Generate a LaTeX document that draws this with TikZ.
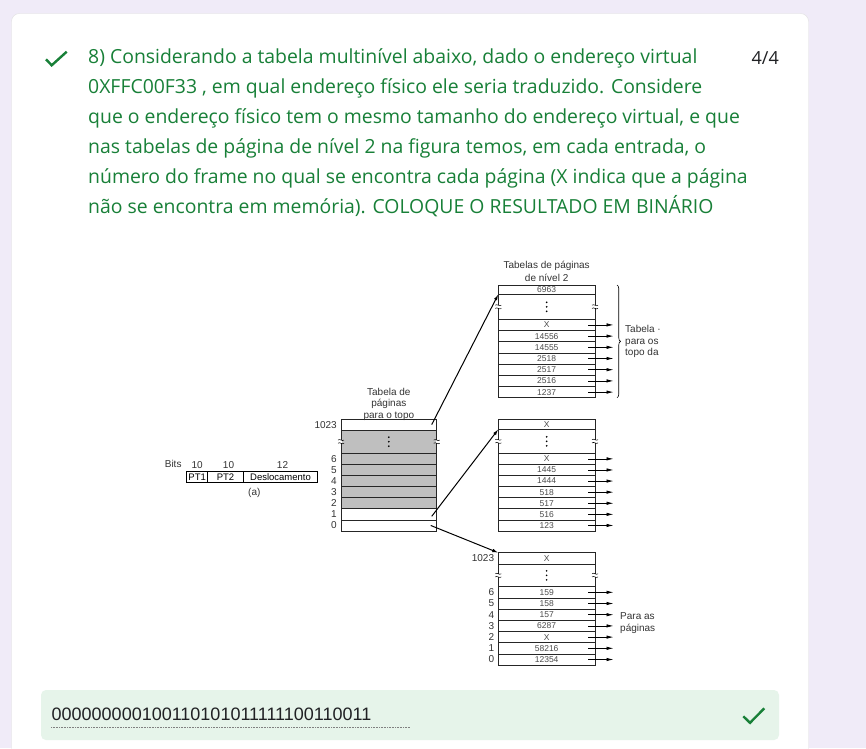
\documentclass[tikz,border=0pt]{standalone}
\usepackage{fontspec}
\setmainfont{Liberation Sans}
\newfontfamily\qfont{Open Sans}
\usetikzlibrary{positioning,arrows.meta,decorations.pathreplacing}
\definecolor{formbg}{HTML}{F0EBF8}
\definecolor{okgreen}{HTML}{188038}
\definecolor{okfill}{HTML}{E6F4EA}
\definecolor{ink}{HTML}{202124}

\begin{document}
\begin{tikzpicture}[x=1pt,y=-1pt,
    qline/.style={anchor=base west,inner sep=0,text=okgreen,font=\qfont\fontsize{19.4}{19.4}\selectfont},
    row/.style={draw=black!85,line width=.7pt,minimum width=96.7pt,minimum height=11.2pt,inner sep=0,outer sep=0,
        font=\fontsize{8.5}{8.5}\selectfont,text=black!70},
    gaprow/.style={row,minimum height=24pt},
    grey/.style={fill=black!25},
    lbl/.style={font=\fontsize{10}{11.5}\selectfont,text=black!80,inner sep=0,align=center},
    num/.style={lbl,label distance=4pt},
    ptr/.style={-{Latex[length=6pt,width=3.5pt]},line width=1pt},
    outarrow/.style={-{Latex[length=7pt,width=3.4pt]},line width=.7pt},
    field/.style={draw,line width=.7pt,minimum height=11pt,inner sep=0,outer sep=0,font=\fontsize{9.5}{9.5}\selectfont},
    brk/.pic={\fill[white] (-1,-1.6) rectangle (1,1.6);
        \draw[line width=.5pt] (-3,-1.6) .. controls (-1,-3.4) and (1,.2) .. (3,-1.6);
        \draw[line width=.5pt] (-3,1.6) .. controls (-1,-.2) and (1,3.4) .. (3,1.6);},
    dots/.pic={\foreach \d in {-4.5,0,4.5} \fill (0,\d) circle (.95);}]
    \useasboundingbox (0,0) rectangle (866,748);
    \fill[formbg] (0,0) rectangle (866,748);
    \fill[white,draw=black!12,rounded corners=8] (11.5,13.5) rectangle (808.5,770);

    \draw[okgreen,line width=2.4pt] (46,59.3) -- (51.7,65.3) -- (66.7,51.7);
    \node[qline] (q1) at (88,63.5) {8) Considerando a tabela multinível abaixo, dado o endereço virtual};
    \node[qline] (q2) at (88,93.5) {0XFFC00F33 , em qual endereço físico ele seria traduzido. Considere};
    \node[qline] (q3) at (88,123.5) {que o endereço físico tem o mesmo tamanho do endereço virtual, e que};
    \node[qline] (q4) at (88,153.5) {nas tabelas de página de nível 2 na figura temos, em cada entrada, o};
    \node[qline] (q5) at (88,183.5) {número do frame no qual se encontra cada página (X indica que a página};
    \node[qline] (q6) at (88,213.5) {não se encontra em memória). COLOQUE O RESULTADO EM BINÁRIO};
    \node[anchor=base east,inner sep=0,text=ink,font=\qfont\fontsize{18}{18}\selectfont] (score) at (779,64) {4/4};

    \node[field,minimum width=21pt,anchor=north west,label={[lbl,label distance=3pt]above:10}] (pt1) at (186.7,471.7) {PT1};
    \node[field,minimum width=35.6pt,right=0pt of pt1,label={[lbl,label distance=3pt,xshift=3pt]above:10}] (pt2) {PT2};
    \node[field,minimum width=74.4pt,right=0pt of pt2,label={[lbl,label distance=3pt,xshift=2pt]above:12}] (desl) {Deslocamento};
    \node[lbl,anchor=east] (bits) at ([xshift=-5pt,yshift=7.4pt]pt1.north west) {Bits};
    \node[lbl,anchor=north] (figa) at ([xshift=11pt,yshift=-5pt]pt2.south east) {(a)};

    \node[row,minimum width=95.7pt,minimum height=10.7pt,anchor=north west,label={[num]left:1023}] (t0top) at (341,419.3) {};
    \node[gaprow,grey,minimum width=95.7pt,minimum height=23.3pt,below=0pt of t0top] (t0-0) {};
    \foreach \n/\f [count=\i, remember=\i as \p (initially 0)] in {6/grey,5/grey,4/grey,3/grey,2/grey,1/,0/}
        \node[row,\f,minimum width=95.7pt,minimum height=11.1pt,below=0pt of t0-\p,label={[num]left:\n}] (t0-\i) {};
    \pic at (t0-0.west) {brk};
    \pic at (t0-0.east) {brk};
    \pic at (t0-0.center) {dots};
    \node[lbl,above=-1pt of t0top] (t0title) {Tabela de\\páginas\\para o topo};

    \node[row,minimum height=9.3pt,anchor=north west] (t1top) at (498.3,285) {6963};
    \node[gaprow,minimum height=25pt,below=0pt of t1top] (t1-0) {};
    \foreach \v [count=\i, remember=\i as \p (initially 0)] in {X,14556,14555,2518,2517,2516,1237}
        \node[row,below=0pt of t1-\p] (t1-\i) {\v};
    \pic at (t1-0.west) {brk};
    \pic at (t1-0.east) {brk};
    \pic at (t1-0.center) {dots};
    \node[lbl,align=center,above=3pt of t1top,font=\fontsize{10}{13.5}\selectfont] (t1title) {Tabelas de páginas\\de nível 2};
    \draw[decorate,decoration={brace,amplitude=3.5pt},line width=.6pt] ([xshift=22pt]t1top.north east) -- ([xshift=22pt]t1-7.south east);
    \node[lbl,align=left,anchor=west] (t1note) at ([xshift=30pt]t1-2.south east) {Tabela ·\\para os\\topo da};

    \node[row,minimum height=10pt,anchor=north west] (t2top) at (498.3,419.3) {X};
    \node[gaprow,below=0pt of t2top] (t2-0) {};
    \foreach \v [count=\i, remember=\i as \p (initially 0)] in {X,1445,1444,518,517,516,123}
        \node[row,minimum height=11.1pt,below=0pt of t2-\p] (t2-\i) {\v};
    \pic at (t2-0.west) {brk};
    \pic at (t2-0.east) {brk};
    \pic at (t2-0.center) {dots};

    \node[row,minimum height=11.3pt,anchor=north west,label={[num]left:1023}] (t3top) at (498.3,552.7) {X};
    \node[gaprow,minimum height=22.7pt,below=0pt of t3top] (t3-0) {};
    \foreach \v/\n [count=\i, remember=\i as \p (initially 0)] in {159/6,158/5,157/4,6287/3,X/2,58216/1,12354/0}
        \node[row,below=0pt of t3-\p,label={[num]left:\n}] (t3-\i) {\v};
    \pic at (t3-0.west) {brk};
    \pic at (t3-0.east) {brk};
    \pic at (t3-0.center) {dots};
    \node[lbl,align=left,anchor=west] (t3note) at ([xshift=25pt,yshift=-3pt]t3-3.south east) {Para as\\páginas};

    \foreach \t in {t1,t2,t3}
        \foreach \i in {1,...,7}
            \draw[outarrow] ([xshift=-7pt]\t-\i.east) -- ++(25.5,0);

    \draw[ptr] ([xshift=-5pt]t0top.east) -- (t1top.south west);
    \draw[ptr] ([xshift=-5pt,yshift=-2pt]t0-6.east) -- (t2top.south west);
    \draw[ptr] ([xshift=-6pt]t0-7.east) -- (t3top.north west);

    \fill[okfill,rounded corners=5] (41,690) rectangle (779,740);
    \node[anchor=base west,inner sep=0,text=ink,font=\fontsize{18}{18}\selectfont] (answer) at (51.5,720.7) {000000000100110101011111100110011};
    \draw[densely dotted,black!50,line width=.6pt] (51,727.3) -- (410,727.3);
    \draw[okgreen,line width=2.4pt] (743.3,716.3) -- (750,722.8) -- (764.3,708.3);
\end{tikzpicture}
\end{document}
